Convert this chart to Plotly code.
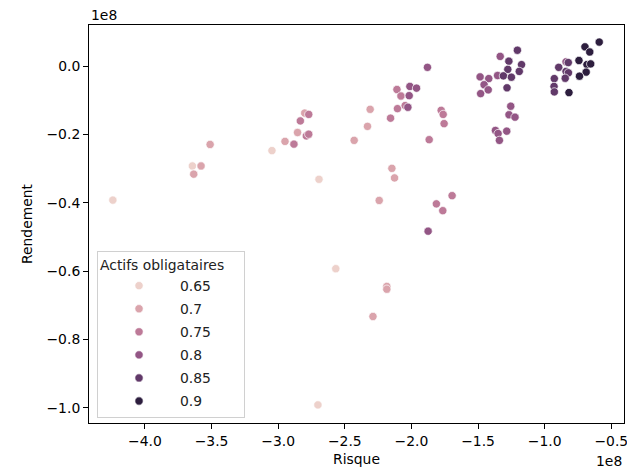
import numpy as np
import plotly.graph_objects as go

# Data (units of 1e8)
risque = [
    -4.241, -3.644, -3.579, -3.634, -3.511, -3.047, -2.949, -2.882, -2.855, -2.789,
    -2.771, -2.834, -2.801, -2.771, -2.694, -2.430, -1.880, -2.310, -2.330, -2.157,
    -2.105, -2.047, -2.027, -2.109, -2.079, -2.012, -2.017, -1.962, -1.777, -1.762,
    -1.755, -1.867, -2.147, -2.127, -2.242, -1.813, -1.765, -1.695, -1.875, -2.568,
    -2.185, -2.185, -2.289, -2.702,
    -1.485, -1.420, -1.455, -1.481, -1.424, -1.354, -1.334, -1.205, -1.269, -1.174,
    -1.277, -1.310, -1.250, -1.191, -1.283, -1.255, -1.268, -1.223, -1.370, -1.350,
    -1.285, -1.340,
    -0.928, -0.895, -0.840, -0.823, -0.840, -0.822, -0.846, -0.930, -0.928, -0.818,
    -0.743, -0.698, -0.662, -0.591, -0.683, -0.655, -0.689, -0.739,
]
rendement = [
    -0.392, -0.292, -0.292, -0.316, -0.229, -0.247, -0.220, -0.228, -0.194, -0.204,
    -0.199, -0.160, -0.137, -0.141, -0.331, -0.217, -0.003, -0.126, -0.176, -0.152,
    -0.124, -0.115, -0.120, -0.068, -0.087, -0.059, -0.086, -0.064, -0.129, -0.141,
    -0.168, -0.215, -0.299, -0.327, -0.393, -0.403, -0.423, -0.379, -0.483, -0.593,
    -0.645, -0.653, -0.733, -0.992,
    -0.031, -0.036, -0.054, -0.080, -0.069, -0.027, 0.029, 0.047, 0.015, 0.005,
    -0.009, -0.028, -0.032, -0.015, -0.063, -0.117, -0.142, -0.149, -0.188, -0.197,
    -0.190, -0.217,
    -0.036, -0.003, 0.013, 0.011, -0.015, -0.019, -0.035, -0.059, -0.075, -0.077,
    0.017, 0.057, 0.042, 0.071, 0.005, 0.007, -0.017, -0.029,
]
actifs_obligataires = [
    0.65, 0.65, 0.70, 0.70, 0.70, 0.65, 0.70, 0.75, 0.70, 0.75,
    0.75, 0.75, 0.70, 0.75, 0.65, 0.70, 0.80, 0.70, 0.70, 0.75,
    0.75, 0.75, 0.80, 0.75, 0.75, 0.80, 0.80, 0.80, 0.75, 0.75,
    0.75, 0.75, 0.70, 0.70, 0.70, 0.75, 0.75, 0.75, 0.80, 0.65,
    0.70, 0.70, 0.70, 0.65,
    0.80, 0.80, 0.80, 0.80, 0.80, 0.80, 0.80, 0.85, 0.85, 0.85,
    0.85, 0.85, 0.85, 0.85, 0.85, 0.80, 0.80, 0.80, 0.80, 0.80,
    0.80, 0.80,
    0.85, 0.85, 0.80, 0.85, 0.85, 0.85, 0.85, 0.85, 0.85, 0.90,
    0.90, 0.90, 0.90, 0.90, 0.90, 0.90, 0.90, 0.90,
]
legend_levels = [0.65, 0.7, 0.75, 0.8, 0.85, 0.9]
legend_labels = ["0.65", "0.7", "0.75", "0.8", "0.85", "0.9"]
x_ticks = [-4.0, -3.5, -3.0, -2.5, -2.0, -1.5, -1.0, -0.5]
x_ticklabels = ["−4.0", "−3.5", "−3.0", "−2.5", "−2.0", "−1.5", "−1.0", "−0.5"]
y_ticks = [0.0, -0.2, -0.4, -0.6, -0.8, -1.0]
y_ticklabels = ["0.0", "−0.2", "−0.4", "−0.6", "−0.8", "−1.0"]


def cubehelix(t, start=0.0, rot=0.4, hue=0.8, light=0.85, dark=0.15):
    x = light + (dark - light) * t
    a = hue * x * (1 - x) / 2
    phi = 2 * np.pi * (start / 3 + rot * x)
    r = x + a * (-0.14861 * np.cos(phi) + 1.78277 * np.sin(phi))
    g = x + a * (-0.29227 * np.cos(phi) - 0.90649 * np.sin(phi))
    b = x + a * (1.97294 * np.cos(phi))
    r, g, b = [int(round(255 * min(max(c, 0), 1))) for c in (r, g, b)]
    return f"rgb({r},{g},{b})"


vmin, vmax = min(actifs_obligataires), max(actifs_obligataires)
norm = lambda v: (v - vmin) / (vmax - vmin)
point_colors = [cubehelix(norm(v)) for v in actifs_obligataires]

FONT = "DejaVu Sans"
FS = 13.9

fig = go.Figure()
fig.add_trace(go.Scatter(
    x=risque, y=rendement, mode="markers", showlegend=False,
    marker=dict(size=8.3, color=point_colors, line=dict(color="white", width=0.7)),
    hoverinfo="skip",
))
for i, (lv, lab) in enumerate(zip(legend_levels, legend_labels)):
    fig.add_trace(go.Scatter(
        x=[None], y=[None], mode="markers", name=lab, legendgroup=f"g{i}",
        marker=dict(size=8.3, color=cubehelix(norm(lv)), line=dict(color="white", width=0.7)),
    ))

axis_common = dict(
    showline=True, linecolor="black", linewidth=1, mirror=True,
    ticks="outside", ticklen=5, tickwidth=1, tickcolor="black",
    showgrid=False, zeroline=False, automargin=False,
    tickfont=dict(family=FONT, size=FS, color="black"),
)
fig.update_xaxes(
    range=[-4.42, -0.405], tickmode="array", tickvals=x_ticks, ticktext=x_ticklabels,
    title=dict(text="Risque", font=dict(family=FONT, size=FS, color="black"), standoff=6),
    **axis_common,
)
fig.update_yaxes(
    range=[-1.045, 0.121], tickmode="array", tickvals=y_ticks, ticktext=y_ticklabels,
    title=dict(text="Rendement", font=dict(family=FONT, size=FS, color="black"), standoff=10),
    ticklabelstandoff=0,
    **axis_common,
)

fig.add_annotation(text="1e8", xref="paper", yref="paper", x=0, y=1,
                   xanchor="left", yanchor="bottom", showarrow=False,
                   font=dict(family=FONT, size=FS, color="black"), yshift=0)
fig.add_annotation(text="1e8", xref="paper", yref="paper", x=1, y=0,
                   xanchor="right", yanchor="top", showarrow=False,
                   font=dict(family=FONT, size=FS, color="black"), yshift=-28)

# page body has an 8px margin: figure sized so the plot area lands where the reference has it
fig.update_layout(
    width=627, height=461,
    margin=dict(l=81, r=11, t=17, b=46, autoexpand=False),
    plot_bgcolor="white", paper_bgcolor="white",
    font=dict(family=FONT, size=FS, color="black"),
    legend=dict(
        title=dict(text="Actifs obligataires\u00a0\u00a0\u00a0\u00a0",
                   font=dict(family=FONT, size=FS, color="#222")),
        x=0.015, y=0.432, xanchor="left", yanchor="top",
        bgcolor="rgba(255,255,255,0.8)", bordercolor="#d0d0d0", borderwidth=1,
        font=dict(family=FONT, size=FS, color="#222"),
        itemwidth=72, tracegroupgap=2,
    ),
)

fig.write_html("out.html")
